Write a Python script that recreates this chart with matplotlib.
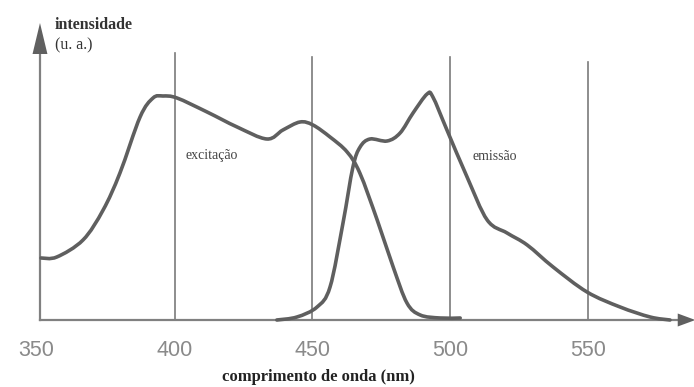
import numpy as np
import matplotlib
matplotlib.use("Agg")
import matplotlib.pyplot as plt
from matplotlib.path import Path
from matplotlib.patches import PathPatch, Polygon

# ---- data (intensity in arbitrary units) ----
exc_nm = [351.6, 357.3, 366.8, 374.1, 380.2, 387.5, 392.2, 395.8, 400.9, 411.8,
          422.7, 433.5, 439.3, 445.5, 450.2, 456.4, 462.6, 467.2, 473.5, 479.3,
          484.3, 489.1, 496.3, 503.6]
exc_int = [62, 63, 80, 110, 147, 203, 222, 224, 222, 208,
           193, 181, 190, 198, 195, 183, 168, 147, 100, 53,
           17, 5, 2, 2]

em_nm = [437.1, 444.4, 451.7, 456.4, 461.1, 464.7, 467.3, 470.9, 477.1, 481.8,
         486.5, 491.6, 493.7, 498.8, 506.1, 513.4, 520.6, 527.9, 537.3, 549.6,
         561.6, 572.5, 579.7]
em_int = [0, 3, 13, 33, 97, 153, 173, 181, 179, 187,
          207, 226, 223, 190, 143, 100, 87, 75, 53, 28,
          13, 3, 0]

grid_nm = [400, 450, 500, 550]
grid_top = [267, 263, 263, 258]
tick_values = [350, 400, 450, 500, 550]

xlabel = "comprimento de onda (nm)"
ylabel_1 = "intensidade"
ylabel_2 = "(u. a.)"
exc_label = "excitação"
em_label = "emissão"

# ---- figure ----
fig = plt.figure(figsize=(6.94, 3.87), dpi=100)
ax = fig.add_axes([0, 0, 1, 1])
ax.set_xlim(336.7, 588.4)
ax.set_ylim(-67, 320)
ax.axis("off")

def smooth_path(xs, ys):
    pts = np.column_stack([xs, ys]).astype(float)
    n = len(pts)
    verts = [pts[0]]
    codes = [Path.MOVETO]
    for i in range(n - 1):
        p0 = pts[i - 1] if i > 0 else pts[i]
        p1 = pts[i]
        p2 = pts[i + 1]
        p3 = pts[i + 2] if i + 2 < n else pts[i + 1]
        c1 = p1 + (p2 - p0) / 6.0
        c2 = p2 - (p3 - p1) / 6.0
        verts += [c1, c2, p2]
        codes += [Path.CURVE4] * 3
    return Path(verts, codes)

curve_color = "#5f5f5f"
for xs, ys in [(exc_nm, exc_int), (em_nm, em_int)]:
    ax.add_patch(PathPatch(smooth_path(xs, ys), facecolor="none",
                           edgecolor=curve_color, lw=2.6, capstyle="round",
                           joinstyle="round", zorder=4))

# vertical reference lines
for x, top in zip(grid_nm, grid_top):
    ax.plot([x, x], [0, top], color="#7a7a7a", lw=1.2, zorder=2)

# axes with arrows
axis_color = "#808080"
y_axis_x = 351.2
ax.plot([y_axis_x, 586.5], [0, 0], color=axis_color, lw=1.6, zorder=3)
ax.plot([y_axis_x, y_axis_x], [0, 270], color=axis_color, lw=1.6, zorder=3)
ax.add_patch(Polygon([[582.5, 6.5], [588.9, 0], [582.5, -6.5]], closed=True,
                     facecolor="#606060", edgecolor="none", zorder=5))
ax.add_patch(Polygon([[y_axis_x - 2.7, 266], [y_axis_x, 297], [y_axis_x + 2.7, 266]],
                     closed=True, facecolor="#606060", edgecolor="none", zorder=5))

# tick labels
for v in tick_values:
    ax.text(v, -31, str(v), ha="center", va="center", fontsize=15.5,
            color="#8a8a8a", family="Liberation Sans")

ax.text(452.1, -57, xlabel, ha="center", va="center", fontsize=12,
        fontweight="bold", family="Liberation Serif", color="#222222")
ax.text(356.5, 295, ylabel_1, ha="left", va="center", fontsize=11.5,
        fontweight="bold", family="Liberation Serif", color="#333333")
ax.text(356.5, 275, ylabel_2, ha="left", va="center", fontsize=11.5,
        family="Liberation Serif", color="#333333")
ax.text(413.6, 164, exc_label, ha="center", va="center", fontsize=10,
        family="Liberation Serif", color="#444444")
ax.text(516.3, 164, em_label, ha="center", va="center", fontsize=10,
        family="Liberation Serif", color="#444444")

fig.savefig("out.png", dpi=100)
